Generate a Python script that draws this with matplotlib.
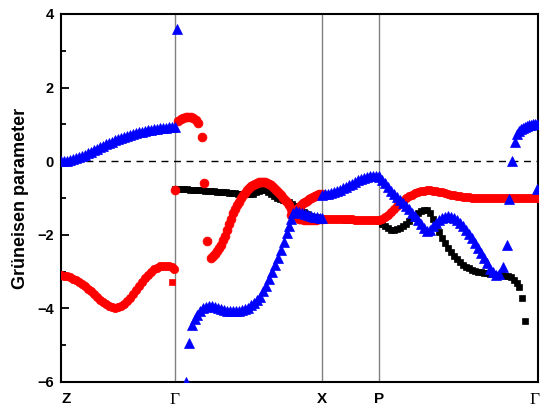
import numpy as np
import matplotlib
matplotlib.use("Agg")
import matplotlib.pyplot as plt
import matplotlib.transforms as mtransforms
from matplotlib.ticker import MultipleLocator

# ---------------- data (k-path coordinate, Grüneisen parameter) ----------------
hs_pos = [0, 114, 261, 318, 477]
hs_labels = ["Z", "Γ", "X", "P", "Γ"]

# ---- Z - Γ ----
blue_zg_x = [0, 3, 6, 9, 12, 15, 18, 21, 24, 27, 30, 33, 36, 39, 42, 45, 48, 51, 54,
             57, 60, 63, 66, 69, 72, 75, 78, 81, 84, 87, 90, 93, 96, 99, 102, 105,
             108, 111, 114]
blue_zg_y = [0.00, 0.005, 0.015, 0.03, 0.05, 0.08, 0.11, 0.14, 0.18, 0.22, 0.26,
             0.30, 0.34, 0.38, 0.42, 0.46, 0.50, 0.53, 0.57, 0.60, 0.63, 0.66, 0.69,
             0.715, 0.74, 0.76, 0.78, 0.80, 0.82, 0.84, 0.855, 0.87, 0.885, 0.895,
             0.905, 0.915, 0.92, 0.925, 0.93]

red_zg_x = [0, 3, 6, 9, 12, 15, 18, 21, 24, 27, 30, 33, 36, 39, 42, 45, 48, 51, 54,
            57, 60, 63, 66, 69, 72, 75, 78, 81, 84, 87, 90, 93, 96, 99, 102, 105,
            108, 111, 113]
red_zg_y = [-3.10, -3.11, -3.13, -3.16, -3.19, -3.23, -3.28, -3.33, -3.39, -3.46,
            -3.53, -3.61, -3.68, -3.76, -3.83, -3.89, -3.94, -3.97, -3.98, -3.97,
            -3.94, -3.88, -3.80, -3.71, -3.60, -3.49, -3.38, -3.27, -3.17, -3.08,
            -3.00, -2.94, -2.89, -2.86, -2.84, -2.84, -2.85, -2.88, -2.92]

red_sq_x = [111]
red_sq_y = [-3.27]

# ---- Γ - X ----
black_gx_x = [114, 117, 120, 123, 126, 129, 132, 135, 138, 141, 144, 147, 150, 153,
              156, 159, 162, 165, 168, 171, 174, 177, 180, 183, 186, 189, 192, 195,
              198, 201, 204, 207, 210, 213, 216, 219, 222, 225, 228, 231, 234, 237,
              240, 243, 246, 249, 252, 255, 258, 261]
black_gx_y = [-0.75, -0.75, -0.755, -0.76, -0.765, -0.77, -0.775, -0.78, -0.79, -0.795,
              -0.80, -0.81, -0.815, -0.82, -0.83, -0.84, -0.845, -0.85, -0.86, -0.87,
              -0.875, -0.88, -0.89, -0.90, -0.905, -0.90, -0.88, -0.84, -0.80, -0.77,
              -0.79, -0.84, -0.90, -0.95, -0.99, -1.02, -1.05, -1.08, -1.11, -1.16,
              -1.22, -1.28, -1.34, -1.39, -1.44, -1.48, -1.51, -1.53, -1.55, -1.56]

red_gx_pts_x = [114, 117, 119.5, 122, 124.5, 127, 129.5, 132, 134.5, 137, 141, 143, 146]
red_gx_pts_y = [-0.77, 1.10, 1.15, 1.18, 1.20, 1.20, 1.19, 1.16, 1.11, 1.03, 0.66,
                -0.60, -2.18]

red_gx_x = [150, 152, 154, 156, 158, 160, 162, 164, 166, 168, 170, 172, 174, 176,
            178, 180, 182, 184, 186, 188, 190, 192, 194, 196, 198, 200, 202, 204,
            206, 208, 210, 212, 214, 216, 218, 220, 222, 224, 226, 228, 230, 232,
            234, 236, 238, 240, 243, 246, 249, 252, 255, 258, 261]
red_gx_y = [-2.63, -2.58, -2.52, -2.45, -2.37, -2.27, -2.15, -2.02, -1.88, -1.72,
            -1.56, -1.42, -1.30, -1.20, -1.10, -1.01, -0.93, -0.86, -0.79, -0.73,
            -0.68, -0.64, -0.61, -0.58, -0.57, -0.56, -0.56, -0.57, -0.59, -0.62,
            -0.66, -0.71, -0.76, -0.81, -0.87, -0.93, -0.99, -1.05, -1.12, -1.20,
            -1.29, -1.38, -1.46, -1.52, -1.56, -1.58, -1.59, -1.60, -1.60, -1.60,
            -1.59, -1.58, -1.57]

red_gx2_x = [230, 232, 234, 236, 238, 240, 242, 244, 246, 248, 250, 252, 254, 256,
             258, 261]
red_gx2_y = [-1.45, -1.40, -1.35, -1.30, -1.25, -1.20, -1.15, -1.11, -1.07, -1.03,
             -1.00, -0.97, -0.95, -0.92, -0.90, -0.88]

blue_gx_pts_x = [116, 125, 128, 131]
blue_gx_pts_y = [3.60, -6.00, -4.94, -4.45]

blue_gx_x = [134, 136, 139, 142, 145, 148, 151, 154, 157, 160, 163, 166, 169, 172,
             175, 178, 181, 184, 187, 190, 193, 196, 199, 202, 205, 208, 211, 214,
             217, 220, 223, 226, 228, 230, 232, 235, 238, 241, 244, 247, 250, 253,
             256, 259, 261]
blue_gx_y = [-4.28, -4.17, -4.07, -4.00, -3.95, -3.93, -3.93, -3.95, -3.98, -4.01,
             -4.04, -4.06, -4.07, -4.08, -4.08, -4.07, -4.05, -4.02, -3.98, -3.92,
             -3.85, -3.78, -3.68, -3.54, -3.38, -3.20, -3.02, -2.83, -2.63, -2.42,
             -2.20, -1.96, -1.76, -1.56, -1.42, -1.35, -1.38, -1.41, -1.44, -1.47,
             -1.49, -1.51, -1.53, -1.54, -1.55]

# ---- X - P ----
black_xp_x = [261, 264, 267, 270, 273, 276, 279, 282, 285, 288, 291, 294, 297, 300,
              303, 306, 309, 312, 315, 318]
black_xp_y = [-1.57, -1.57, -1.58, -1.58, -1.58, -1.58, -1.58, -1.58, -1.59, -1.59,
              -1.59, -1.59, -1.59, -1.59, -1.60, -1.60, -1.60, -1.60, -1.60, -1.61]

red_xp_x = [261, 264, 267, 270, 273, 276, 279, 282, 285, 288, 291, 294, 297, 300,
            303, 306, 309, 312, 315, 318]
red_xp_y = [-1.56, -1.56, -1.57, -1.57, -1.57, -1.57, -1.58, -1.58, -1.58, -1.58,
            -1.58, -1.59, -1.59, -1.59, -1.59, -1.59, -1.60, -1.60, -1.60, -1.60]

blue_xp_x = [261, 264, 267, 270, 273, 276, 279, 282, 285, 288, 291, 294, 297, 300,
             303, 306, 309, 312, 315, 318]
blue_xp_y = [-0.92, -0.90, -0.88, -0.86, -0.84, -0.81, -0.78, -0.74, -0.70, -0.65,
             -0.61, -0.56, -0.52, -0.48, -0.45, -0.43, -0.41, -0.40, -0.40, -0.42]

# ---- P - Γ ----
black_pg_x = [318, 321, 324, 327, 330, 333, 336, 339, 342, 345, 348, 351, 354, 357,
              360, 363, 366, 369, 372, 375, 378, 381, 384, 387, 390, 393, 396, 399,
              402, 405, 408, 411, 414, 417, 420, 423, 426, 429, 432, 435, 438, 441,
              444, 447, 450, 453, 456, 458, 461, 464]
black_pg_y = [-1.62, -1.70, -1.77, -1.82, -1.86, -1.86, -1.84, -1.81, -1.76, -1.70,
              -1.63, -1.55, -1.47, -1.40, -1.35, -1.32, -1.33, -1.42, -1.57, -1.73,
              -1.92, -2.08, -2.22, -2.35, -2.46, -2.57, -2.67, -2.75, -2.82, -2.87,
              -2.91, -2.95, -2.98, -3.00, -3.02, -3.04, -3.05, -3.06, -3.07, -3.08,
              -3.09, -3.10, -3.11, -3.13, -3.16, -3.22, -3.30, -3.42, -3.72, -4.35]

red_pg_x = [318, 321, 324, 327, 330, 333, 336, 339, 342, 345, 348, 351, 354, 357,
            360, 363, 366, 369, 372, 375, 378, 381, 384, 387, 390, 393, 396, 399,
            402, 405, 408, 411, 414, 417, 420, 423, 426, 429, 432, 435, 438, 441,
            444, 447, 450, 453, 456, 459, 462, 465, 468, 471, 474, 477]
red_pg_y = [-1.60, -1.56, -1.51, -1.45, -1.38, -1.30, -1.22, -1.14, -1.07, -1.01,
            -0.95, -0.91, -0.87, -0.84, -0.82, -0.80, -0.79, -0.79, -0.80, -0.81,
            -0.83, -0.85, -0.87, -0.89, -0.91, -0.93, -0.94, -0.95, -0.96, -0.97,
            -0.98, -0.99, -1.00, -1.00, -1.00, -1.00, -1.00, -1.00, -1.00, -1.00,
            -1.00, -1.00, -1.00, -1.00, -1.00, -1.00, -1.00, -1.00, -1.00, -1.00,
            -1.00, -1.00, -1.00, -1.00]

blue_pg_x = [318, 321, 324, 327, 330, 333, 336, 339, 342, 345, 348, 351, 354, 357,
             360, 363, 366, 369, 372, 375, 378, 381, 384, 387, 390, 393, 396, 399,
             402, 405, 408, 411, 414, 417, 420, 423, 426, 429, 432, 435, 438, 442]
blue_pg_y = [-0.40, -0.50, -0.60, -0.71, -0.81, -0.90, -0.98, -1.06, -1.14, -1.22,
             -1.30, -1.40, -1.50, -1.61, -1.72, -1.82, -1.90, -1.86, -1.77, -1.68,
             -1.61, -1.55, -1.51, -1.50, -1.51, -1.54, -1.59, -1.67, -1.76, -1.86,
             -1.98, -2.10, -2.23, -2.37, -2.50, -2.64, -2.78, -2.92, -3.02, -3.09,
             -3.07, -2.88]

blue_pg_pts_x = [446, 448, 451, 454, 476]
blue_pg_pts_y = [-2.28, -1.03, 0.00, 0.52, -0.75]

blue_pg_arc_x = [456, 458, 460, 462, 464, 466, 468, 470, 472, 474, 476]
blue_pg_arc_y = [0.75, 0.82, 0.87, 0.91, 0.94, 0.96, 0.98, 0.99, 1.00, 1.00, 1.00]

# ---------------- figure ----------------
plt.rcParams['font.family'] = ['Liberation Sans', 'DejaVu Sans']
fig = plt.figure(figsize=(5.5, 4.11), dpi=100)
ax = fig.add_axes([0.111, 0.0706, 0.867, 0.8954])

BLACK, RED, BLUE = "#000000", "#ff0000", "#0000ff"
ms_sq, ms_c, ms_t = 5.0, 6.0, 6.6

for p in hs_pos[1:-1]:
    ax.axvline(p, color="#808080", lw=1.0, zorder=1)
ax.axhline(0, color="black", lw=1.0, ls=(0, (5, 4)), zorder=1)


def sq(x, y):
    ax.plot(x, y, ls="none", marker="s", ms=ms_sq, color=BLACK, mec=BLACK, mew=0.5, zorder=3)


def rc(x, y, ms=ms_c, marker="o"):
    ax.plot(x, y, ls="none", marker=marker, ms=ms, color=RED, mec=RED, mew=0.5, zorder=4)


def bt(x, y):
    ax.plot(x, y, ls="none", marker="^", ms=ms_t, color=BLUE, mec=BLUE, mew=0.5, zorder=5)


sq(black_gx_x, black_gx_y)
sq(black_xp_x, black_xp_y)
sq(black_pg_x, black_pg_y)

rc(red_zg_x, red_zg_y)
rc(red_sq_x, red_sq_y, marker="s", ms=5.0)
rc(red_gx_pts_x, red_gx_pts_y, ms=6.4)
rc(red_gx_x, red_gx_y, ms=6.4)
rc(red_gx2_x, red_gx2_y, ms=6.4)
rc(red_xp_x, red_xp_y)
rc(red_pg_x, red_pg_y)

bt(blue_zg_x, blue_zg_y)
bt(blue_gx_pts_x, blue_gx_pts_y)
bt(blue_gx_x, blue_gx_y)
bt(blue_xp_x, blue_xp_y)
bt(blue_pg_x, blue_pg_y)
bt(blue_pg_pts_x, blue_pg_pts_y)
bt(blue_pg_arc_x, blue_pg_arc_y)

ax.set_xlim(hs_pos[0], hs_pos[-1])
ax.set_ylim(-6, 4)
ax.yaxis.set_major_locator(MultipleLocator(2))
ax.yaxis.set_minor_locator(MultipleLocator(1))
ax.tick_params(axis="y", which="major", direction="in", length=6, width=1.3,
               labelsize=10.5, pad=5)
ax.tick_params(axis="y", which="minor", direction="in", length=3.5, width=1.3)
ax.tick_params(axis="x", which="both", length=0, pad=7)
for lab in ax.get_yticklabels():
    lab.set_fontweight("bold")

ax.set_xticks(hs_pos)
ax.set_xticklabels(hs_labels)
xlabs = ax.get_xticklabels()
for i, lab in enumerate(xlabs):
    if lab.get_text() == "Γ":
        lab.set_fontfamily(["Liberation Serif", "DejaVu Serif"])
        lab.set_fontsize(12.5)
    else:
        lab.set_fontweight("bold")
        lab.set_fontsize(11)
# Z label sits a little inside the frame
xlabs[0].set_transform(xlabs[0].get_transform() +
                       mtransforms.ScaledTranslation(5 / 100, 0, fig.dpi_scale_trans))
xlabs[-1].set_transform(xlabs[-1].get_transform() +
                        mtransforms.ScaledTranslation(-3 / 100, 0, fig.dpi_scale_trans))

for s in ax.spines.values():
    s.set_linewidth(1.5)

ax.set_ylabel("Grüneisen parameter", fontsize=13, fontweight="bold", labelpad=6)

fig.savefig("out.png", dpi=100)
